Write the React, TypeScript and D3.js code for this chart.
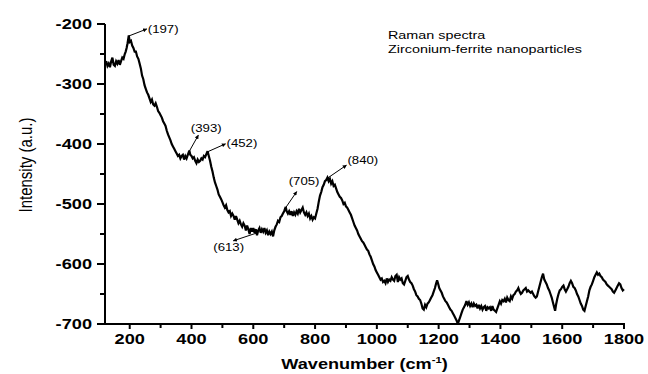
import React from "react";
import * as d3 from "d3";

// Raman spectrum of zirconium-ferrite nanoparticles: [wavenumber (cm-1), intensity (a.u.)]
const spectrum: [number, number][] = [
  [120, -268], [124, -262], [128, -270], [132, -266], [136, -272], [140, -262], [144, -256], [148, -268],
  [152, -270], [156, -262], [160, -266], [164, -260], [168, -268], [172, -262], [176, -256], [180, -258],
  [184, -250], [187, -246], [190, -240], [193, -232], [197, -219], [200, -230], [204, -228], [208, -236],
  [212, -240], [216, -246], [220, -246], [224, -254], [228, -258], [232, -266], [236, -274], [240, -286],
  [244, -292], [248, -302], [252, -308], [256, -314], [260, -318], [264, -324], [268, -330], [272, -326],
  [276, -334], [280, -336], [284, -332], [288, -338], [292, -345], [296, -348], [300, -352], [304, -356],
  [308, -362], [312, -366], [316, -370], [320, -378], [324, -384], [328, -389], [332, -394], [336, -400],
  [340, -404], [344, -408], [348, -412], [352, -416], [356, -420], [360, -418], [364, -424], [368, -420],
  [372, -418], [376, -426], [380, -420], [384, -424], [388, -418], [393, -411], [396, -418], [400, -420],
  [404, -424], [408, -422], [412, -428], [416, -432], [420, -426], [424, -430], [428, -428], [432, -424],
  [436, -426], [440, -420], [444, -422], [448, -417], [452, -412], [456, -420], [460, -428], [464, -438],
  [468, -446], [472, -456], [476, -464], [480, -470], [484, -476], [488, -484], [492, -488], [496, -492],
  [500, -497], [504, -502], [508, -506], [512, -502], [516, -510], [520, -514], [524, -512], [528, -520],
  [532, -516], [536, -520], [540, -526], [544, -520], [548, -526], [552, -532], [556, -528], [560, -534],
  [564, -538], [568, -532], [572, -536], [576, -544], [580, -536], [584, -542], [588, -550], [592, -540],
  [596, -546], [600, -540], [604, -548], [608, -542], [612, -552], [616, -544], [620, -540], [624, -548],
  [628, -542], [632, -546], [636, -540], [640, -548], [644, -544], [648, -552], [652, -546], [656, -550],
  [660, -546], [664, -554], [668, -544], [672, -538], [676, -534], [680, -528], [684, -530], [688, -522],
  [692, -520], [696, -516], [700, -512], [705, -505], [708, -512], [712, -516], [716, -512], [720, -518],
  [724, -512], [728, -520], [732, -514], [736, -518], [740, -512], [744, -516], [748, -508], [752, -514],
  [756, -510], [760, -506], [764, -514], [768, -518], [772, -514], [776, -520], [780, -516], [784, -524],
  [788, -520], [792, -526], [796, -522], [800, -524], [804, -516], [808, -508], [812, -496], [816, -486],
  [820, -480], [824, -472], [828, -468], [832, -462], [836, -460], [840, -456], [844, -462], [848, -458],
  [852, -466], [856, -462], [860, -470], [864, -468], [868, -474], [872, -480], [876, -484], [880, -488],
  [884, -490], [888, -494], [892, -500], [896, -498], [900, -504], [904, -506], [908, -510], [912, -514],
  [916, -518], [920, -524], [924, -530], [928, -536], [932, -540], [936, -544], [940, -550], [944, -554],
  [948, -558], [952, -562], [956, -564], [960, -568], [964, -572], [968, -576], [972, -578], [976, -584],
  [980, -588], [984, -594], [988, -600], [992, -604], [996, -610], [1000, -614], [1004, -618], [1008, -622],
  [1012, -626], [1016, -624], [1020, -630], [1024, -628], [1028, -632], [1032, -624], [1036, -630],
  [1040, -626], [1044, -628], [1048, -622], [1052, -626], [1056, -628], [1060, -620], [1064, -618],
  [1068, -630], [1072, -622], [1076, -626], [1080, -624], [1084, -632], [1088, -634], [1092, -628],
  [1096, -622], [1100, -620], [1104, -626], [1108, -630], [1112, -632], [1116, -636], [1120, -642],
  [1124, -646], [1128, -652], [1132, -654], [1136, -658], [1140, -660], [1144, -666], [1148, -674],
  [1152, -676], [1156, -668], [1160, -672], [1164, -666], [1168, -664], [1172, -660], [1176, -656],
  [1180, -652], [1184, -646], [1188, -640], [1192, -632], [1195, -627], [1198, -632], [1202, -640],
  [1206, -644], [1210, -648], [1214, -654], [1218, -658], [1222, -662], [1226, -664], [1230, -668],
  [1234, -672], [1238, -676], [1242, -678], [1246, -682], [1250, -686], [1254, -690], [1258, -694],
  [1262, -700], [1266, -694], [1270, -688], [1274, -682], [1278, -676], [1282, -672], [1286, -668],
  [1290, -662], [1294, -668], [1298, -664], [1302, -670], [1306, -666], [1310, -672], [1314, -666],
  [1318, -670], [1322, -668], [1326, -674], [1330, -668], [1334, -674], [1338, -670], [1342, -676],
  [1346, -672], [1350, -670], [1354, -678], [1358, -672], [1362, -674], [1366, -672], [1370, -678],
  [1374, -670], [1378, -676], [1382, -678], [1386, -680], [1390, -674], [1394, -668], [1398, -662],
  [1402, -666], [1406, -660], [1410, -662], [1414, -658], [1418, -664], [1422, -656], [1426, -660],
  [1430, -662], [1434, -654], [1438, -658], [1442, -652], [1446, -650], [1450, -646], [1454, -644],
  [1458, -640], [1462, -646], [1466, -650], [1470, -648], [1474, -644], [1478, -642], [1482, -640],
  [1486, -646], [1490, -644], [1494, -646], [1498, -648], [1502, -646], [1506, -650], [1510, -654],
  [1514, -656], [1518, -654], [1522, -646], [1526, -638], [1530, -630], [1534, -622], [1538, -616],
  [1542, -626], [1546, -630], [1550, -634], [1554, -640], [1558, -644], [1562, -650], [1566, -656],
  [1570, -664], [1574, -672], [1577, -678], [1580, -668], [1584, -658], [1588, -650], [1592, -644],
  [1596, -642], [1600, -638], [1604, -636], [1608, -642], [1612, -646], [1616, -642], [1620, -638],
  [1624, -632], [1628, -628], [1632, -632], [1636, -638], [1640, -640], [1644, -644], [1648, -650],
  [1652, -654], [1656, -660], [1660, -666], [1664, -670], [1668, -676], [1672, -678], [1676, -670],
  [1680, -662], [1684, -654], [1688, -644], [1692, -638], [1696, -634], [1700, -628], [1704, -622],
  [1708, -618], [1712, -614], [1716, -618], [1720, -616], [1724, -620], [1728, -622], [1732, -626],
  [1736, -628], [1740, -630], [1744, -634], [1748, -636], [1752, -638], [1756, -640], [1760, -642],
  [1764, -646], [1768, -648], [1772, -644], [1776, -640], [1780, -636], [1784, -632], [1788, -634],
  [1792, -640], [1796, -644], [1800, -642],
];

// Assigned Raman bands, [wavenumber, intensity at the arrow tail]
const bands: [number, number][] = [
  [197, -220], [393, -412], [452, -413], [613, -548], [705, -506], [840, -457],
];

// Arrow tip and label placement for each band, in px relative to the arrow tail
const calloutLayout = [
  { tip: [18, -7], text: [19, -3.5] },
  { tip: [9, -16], text: [1.5, -19] },
  { tip: [18, -8], text: [19, -5] },
  { tip: [-24, 8], text: [-44, 18] },
  { tip: [11, -16], text: [3, -23] },
  { tip: [19, -13], text: [20, -14] },
];

const xTicks = [200, 400, 600, 800, 1000, 1200, 1400, 1600, 1800];
const xMinor = [300, 500, 700, 900, 1100, 1300, 1500, 1700];
const yTicks = [-200, -300, -400, -500, -600, -700];
const yMinor = [-250, -350, -450, -550, -650];

const legendLines = ["Raman spectra", "Zirconium-ferrite nanoparticles"];

const FONT = "Arial, 'Liberation Sans', sans-serif";
const W = 648;
const H = 374;
const plot = { left: 105, right: 624, top: 24, bottom: 324 };
const SX = 1.28; // horizontal glyph stretch used throughout the figure

function Label(props: {
  x: number; y: number; text?: string; size: number; bold?: boolean;
  anchor?: "start" | "middle" | "end"; sx?: number; children?: React.ReactNode;
}) {
  const { x, y, text, size, bold, anchor = "start", sx = SX, children } = props;
  return (
    <text
      transform={`translate(${x},${y}) scale(${sx},1)`}
      fontFamily={FONT}
      fontSize={size}
      fontWeight={bold ? "bold" : "normal"}
      textAnchor={anchor}
      fill="#000"
    >
      {children ?? text}
    </text>
  );
}

export default function App() {
  const x = d3.scaleLinear().domain([120, 1800]).range([plot.left, plot.right]);
  const y = d3.scaleLinear().domain([-700, -200]).range([plot.bottom, plot.top]);

  const line = d3
    .line<[number, number]>()
    .x((d) => x(d[0]))
    .y((d) => y(d[1]));

  return (
    <svg
      width={W}
      height={H}
      viewBox={`0 0 ${W} ${H}`}
      style={{ position: "absolute", left: 0, top: 0, background: "#fff" }}
    >
      <defs>
        <marker id="head" viewBox="0 0 10 10" refX="9" refY="5" markerWidth="5" markerHeight="4" orient="auto" markerUnits="userSpaceOnUse">
          <path d="M0,0 L10,5 L0,10 z" fill="#000" />
        </marker>
      </defs>
      <rect width={W} height={H} fill="#fff" />

      {/* spectrum */}
      <path d={line(spectrum) ?? ""} fill="none" stroke="#000" strokeWidth={2.2} strokeLinejoin="miter" strokeMiterlimit={3} />

      {/* axes */}
      <line x1={plot.left} x2={plot.left} y1={plot.top} y2={plot.bottom + 1} stroke="#000" strokeWidth={2} />
      <line x1={plot.left - 1} x2={plot.right + 1} y1={plot.bottom} y2={plot.bottom} stroke="#000" strokeWidth={2} />

      {yTicks.map((t) => (
        <g key={`y${t}`}>
          <line x1={plot.left - 8} x2={plot.left} y1={y(t)} y2={y(t)} stroke="#000" strokeWidth={2} />
          <Label x={92} y={y(t) + 5} text={String(t)} size={14} bold anchor="end" sx={1.3} />
        </g>
      ))}
      {yMinor.map((t) => (
        <line key={`ym${t}`} x1={plot.left - 5} x2={plot.left} y1={y(t)} y2={y(t)} stroke="#000" strokeWidth={2} />
      ))}

      {xTicks.map((t) => (
        <g key={`x${t}`}>
          <line x1={x(t)} x2={x(t)} y1={plot.bottom} y2={plot.bottom + 5} stroke="#000" strokeWidth={2} />
          <Label x={x(t)} y={344} text={String(t)} size={14} bold anchor="middle" sx={1.3} />
        </g>
      ))}
      {xMinor.map((t) => (
        <line key={`xm${t}`} x1={x(t)} x2={x(t)} y1={plot.bottom} y2={plot.bottom + 4} stroke="#000" strokeWidth={2} />
      ))}

      {/* axis titles */}
      <Label x={(plot.left + plot.right) / 2} y={369} size={14.5} bold anchor="middle" sx={1.25}>
        Wavenumber (cm
        <tspan fontSize={9} dy={-6}>-1</tspan>
        <tspan dy={6}>)</tspan>
      </Label>
      <text
        transform={`translate(32,${(plot.top + plot.bottom) / 2 - 9}) rotate(-90) scale(1,1.2)`}
        fontFamily={FONT}
        fontSize={15}
        textAnchor="middle"
        fill="#000"
      >
        Intensity (a.u.)
      </text>

      {/* band callouts */}
      {bands.map(([w, v], i) => {
        const x0 = x(w);
        const y0 = y(v);
        const lay = calloutLayout[i];
        return (
          <g key={`b${w}`}>
            <line
              x1={x0}
              y1={y0}
              x2={x0 + lay.tip[0]}
              y2={y0 + lay.tip[1]}
              stroke="#000"
              strokeWidth={1}
              markerEnd="url(#head)"
            />
            <Label x={x0 + lay.text[0]} y={y0 + lay.text[1]} text={`(${w})`} size={11} sx={1.2} />
          </g>
        );
      })}

      {/* legend */}
      {legendLines.map((s, i) => (
        <Label key={s} x={388} y={39 + i * 14} text={s} size={11.5} sx={1.25} />
      ))}
    </svg>
  );
}
